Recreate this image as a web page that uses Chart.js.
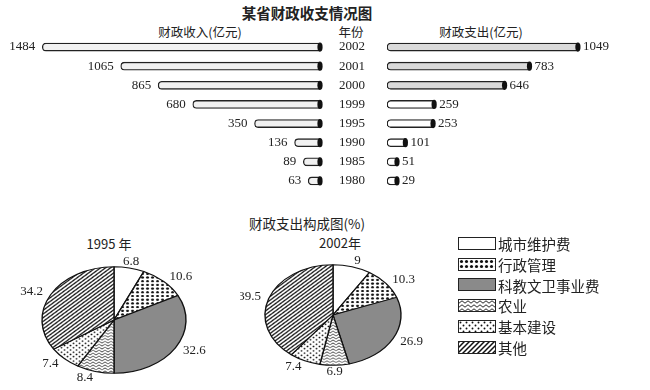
<!DOCTYPE html>
<html>
<head>
<meta charset="utf-8">
<title>某省财政收支情况图</title>
<script src="https://cdn.jsdelivr.net/npm/chart.js"></script>
<style>
  body { margin: 0; width: 650px; height: 390px; overflow: hidden; background: #fff; position: relative;
         font-family: "Noto Sans CJK SC", sans-serif; color: #222; }
  .txt { position: absolute; white-space: nowrap; transform: translate(-50%, -50%); }
  canvas.abs { position: absolute; }
  #legend { position: absolute; left: 458px; top: 233px; }
  .row { display: flex; align-items: center; height: 20.8px; font-size: 14.5px; }
  .row canvas { border: 1.2px solid #222; margin-right: 2px; }
</style>
</head>
<body>
<div class="txt" style="left:307px;top:12px;font-size:14.5px;font-weight:bold">某省财政收支情况图</div>
<div class="txt" style="left:200px;top:31px;font-size:12.5px">财政收入(亿元)</div>
<div class="txt" style="left:351px;top:31px;font-size:12.5px">年份</div>
<div class="txt" style="left:481px;top:31px;font-size:12.5px">财政支出(亿元)</div>
<div class="txt" style="left:307px;top:223px;font-size:13.5px">财政支出构成图(%)</div>
<div class="txt" style="left:109px;top:243px;font-size:13px">1995 年</div>
<div class="txt" style="left:340px;top:242px;font-size:13px">2002年</div>

<canvas id="inChart" class="abs" width="330" height="200" style="left:0;top:0"></canvas>
<canvas id="outChart" class="abs" width="325" height="200" style="left:325px;top:0"></canvas>
<canvas id="pie1995" class="abs" width="230" height="190" style="left:0;top:200px"></canvas>
<canvas id="pie2002" class="abs" width="190" height="190" style="left:240px;top:200px"></canvas>
<div id="legend"></div>

<script>
// ---- data ----
const years = ['2002', '2001', '2000', '1999', '1995', '1990', '1985', '1980'];
const income = [1484, 1065, 865, 680, 350, 136, 89, 63];      // 财政收入(亿元)
const spending = [1049, 783, 646, 259, 253, 101, 51, 29];      // 财政支出(亿元)

const parts = ['城市维护费', '行政管理', '科教文卫事业费', '农业', '基本建设', '其他'];
const share1995 = [6.8, 10.6, 32.6, 8.4, 7.4, 34.2];
const share2002 = [9, 10.3, 26.9, 6.9, 7.4, 39.5];

// ---- fill patterns ----
function makePattern(kind) {
    const c = document.createElement('canvas');
    const g = c.getContext('2d');
    const size = { bigdots: 5, smalldots: 6, zigzag: 6, stripes: 5 }[kind];
    c.width = size;
    c.height = kind === 'zigzag' ? 4 : size;
    g.fillStyle = '#fff';
    g.fillRect(0, 0, c.width, c.height);
    g.fillStyle = '#111';
    g.strokeStyle = '#111';
    if (kind === 'bigdots') {
        g.beginPath(); g.arc(2.5, 2.5, 1.55, 0, Math.PI * 2); g.fill();
    } else if (kind === 'smalldots') {
        g.beginPath(); g.arc(1.5, 1.5, 0.95, 0, Math.PI * 2); g.fill();
        g.beginPath(); g.arc(4.5, 4.5, 0.95, 0, Math.PI * 2); g.fill();
    } else if (kind === 'zigzag') {
        g.lineWidth = 0.9;
        g.beginPath(); g.moveTo(0, 3.2); g.lineTo(3, 0.8); g.lineTo(6, 3.2); g.stroke();
    } else if (kind === 'stripes') {
        g.lineWidth = 1.5;
        g.beginPath();
        g.moveTo(-1, 6); g.lineTo(6, -1);
        g.moveTo(-1, 1); g.lineTo(1, -1);
        g.moveTo(4, 6); g.lineTo(6, 4);
        g.stroke();
    }
    return g.createPattern(c, 'repeat');
}

const sliceFills = ['#ffffff', makePattern('bigdots'), '#8a8a8a',
                    makePattern('zigzag'), makePattern('smalldots'), makePattern('stripes')];

// ---- bar decorations: black end cap + value label (+ year labels on the right chart) ----
const barDeco = {
    id: 'barDeco',
    afterDatasetsDraw(chart, args, opts) {
        const ctx = chart.ctx;
        const vals = chart.data.datasets[0].data;
        ctx.save();
        ctx.font = '13px "Liberation Serif", serif';
        ctx.textBaseline = 'middle';
        chart.getDatasetMeta(0).data.forEach((bar, i) => {
            const left = Math.min(bar.x, bar.base);
            const right = Math.max(bar.x, bar.base);
            ctx.fillStyle = '#111';
            ctx.beginPath();
            ctx.ellipse(right, bar.y, 2.6, bar.height / 2 + 0.6, 0, 0, Math.PI * 2);
            ctx.fill();
            ctx.fillStyle = '#222';
            if (opts.side === 'left') {
                ctx.textAlign = 'right';
                ctx.fillText(vals[i], left - 7, bar.y);
            } else {
                ctx.textAlign = 'left';
                ctx.fillText(vals[i], right + 5, bar.y);
            }
        });
        if (opts.side === 'right') {
            const yScale = chart.scales.y;
            ctx.textAlign = 'center';
            chart.data.labels.forEach((lab, i) => {
                ctx.fillText(lab, chart.chartArea.left - 35, yScale.getPixelForTick(i));
            });
        }
        ctx.restore();
    }
};

function barOptions(side, max) {
    return {
        indexAxis: 'y',
        responsive: false,
        animation: false,
        events: [],
        layout: { padding: { top: 37.5, bottom: 9.5, left: side === 'left' ? 0 : 62, right: side === 'left' ? 10 : 0 } },
        plugins: { legend: { display: false }, tooltip: { enabled: false }, barDeco: { side: side } },
        scales: {
            x: { display: false, reverse: side === 'left', min: 0, max: max },
            y: { display: false }
        }
    };
}

const barStyle = {
    borderColor: '#222',
    borderWidth: 1.3,
    borderSkipped: false,
    borderRadius: { topLeft: 4, bottomLeft: 4, topRight: 0, bottomRight: 0 },
    barThickness: 8,
    minBarLength: 10
};

new Chart(document.getElementById('inChart'), {
    type: 'bar',
    data: { labels: years, datasets: [{ ...barStyle, data: income, backgroundColor: '#f1f1f1' }] },
    options: barOptions('left', 1710),
    plugins: [barDeco]
});

new Chart(document.getElementById('outChart'), {
    type: 'bar',
    data: { labels: years, datasets: [{ ...barStyle, data: spending,
        backgroundColor: ['#dadada', '#dadada', '#dadada', '#fff', '#fff', '#fff', '#fff', '#fff'] }] },
    options: barOptions('right', 1445),
    plugins: [barDeco]
});

// ---- flattened (elliptical) pies ----
const SQUASH = 0.74;
const ellipsePie = {
    id: 'ellipsePie',
    beforeDatasetsDraw(chart) {
        const arc = chart.getDatasetMeta(0).data[0];
        const ctx = chart.ctx;
        ctx.save();
        ctx.translate(arc.x, arc.y);
        ctx.scale(1, SQUASH);
        ctx.translate(-arc.x, -arc.y);
    },
    afterDatasetsDraw(chart) {
        const ctx = chart.ctx;
        ctx.restore();
        const vals = chart.data.datasets[0].data;
        ctx.save();
        ctx.font = '13px "Liberation Serif", serif';
        ctx.fillStyle = '#222';
        ctx.textBaseline = 'middle';
        chart.getDatasetMeta(0).data.forEach((arc, i) => {
            const a = (arc.startAngle + arc.endAngle) / 2;
            const r = arc.outerRadius * 1.12;
            const c = Math.cos(a);
            ctx.textAlign = c > 0.25 ? 'left' : (c < -0.25 ? 'right' : 'center');
            ctx.fillText(vals[i], arc.x + c * r, arc.y + Math.sin(a) * r * SQUASH);
        });
        ctx.restore();
    }
};

function pieChart(id, values, radius, padding) {
    return new Chart(document.getElementById(id), {
        type: 'pie',
        data: { labels: parts, datasets: [{ data: values, backgroundColor: sliceFills,
                borderColor: '#111', borderWidth: 1.4, radius: radius }] },
        options: {
            responsive: false,
            animation: false,
            events: [],
            layout: { padding: padding },
            plugins: { legend: { display: false }, tooltip: { enabled: false } }
        },
        plugins: [ellipsePie]
    });
}

pieChart('pie1995', share1995, 72, { left: 0, right: 2, top: 50, bottom: 0 });
pieChart('pie2002', share2002, 68, { left: 0, right: 4, top: 40, bottom: 0 });

// ---- legend ----
const legend = document.getElementById('legend');
parts.forEach((name, i) => {
    const row = document.createElement('div');
    row.className = 'row';
    const sw = document.createElement('canvas');
    sw.width = 36; sw.height = 11;
    const g = sw.getContext('2d');
    g.fillStyle = sliceFills[i];
    g.fillRect(0, 0, sw.width, sw.height);
    const label = document.createElement('span');
    label.textContent = name;
    row.appendChild(sw);
    row.appendChild(label);
    legend.appendChild(row);
});
</script>
</body>
</html>
